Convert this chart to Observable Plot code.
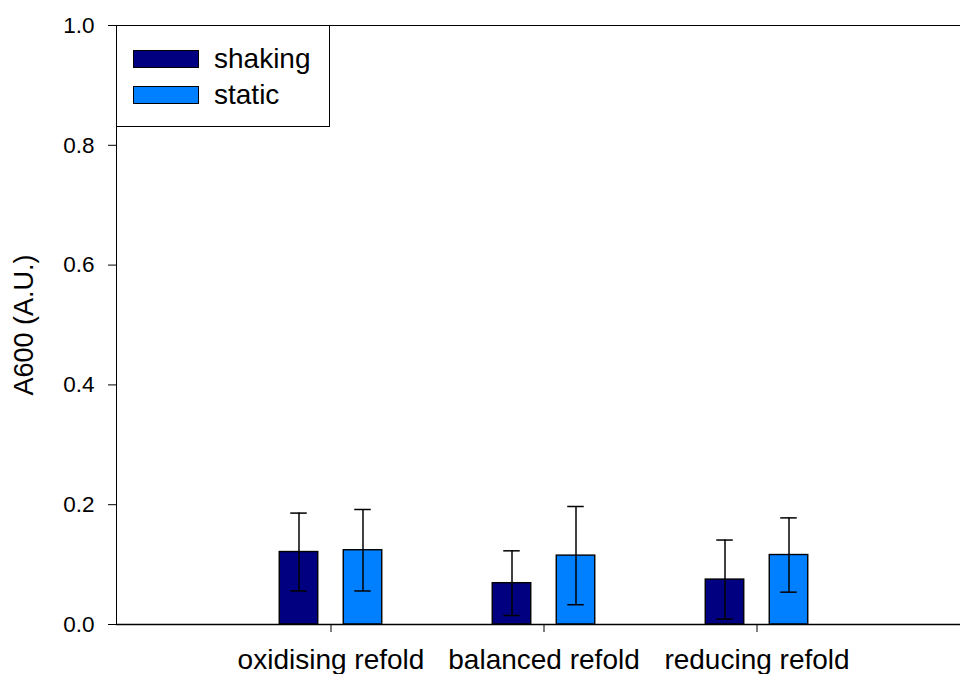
<!DOCTYPE html>
<html>
<head>
<meta charset="utf-8">
<script src="https://cdn.jsdelivr.net/npm/d3@7"></script>
<script src="https://cdn.jsdelivr.net/npm/@observablehq/plot@0.6"></script>
<style>
  html, body { margin: 0; padding: 0; background: #fff; }
  #chart { position: relative; width: 960px; height: 674px; overflow: hidden; font-family: "Liberation Sans", Arial, sans-serif; }
  #legend { position: absolute; left: 116px; top: 25px; width: 212px; height: 100px; border: 1px solid #000; background: #fff; }
  #legend .row { position: absolute; left: 16px; display: flex; align-items: center; font-size: 28px; color: #000; }
  #legend .sw { width: 64px; height: 16px; border: 1px solid #000; margin-right: 15px; }
</style>
</head>
<body>
<div id="chart"></div>
<script>
// Refolding conditions (x categories)
const conditions = ["oxidising refold", "balanced refold", "reducing refold"];
// Culture modes (series)
const series = ["shaking", "static"];
const seriesColors = ["#000080", "#0080ff"];
// Mean A600 per condition, and error (± half-range of the error bar)
const shakingMean = [0.121, 0.069, 0.075];
const shakingErr = [0.065, 0.054, 0.066];
const staticMean = [0.124, 0.115, 0.116];
const staticErr = [0.068, 0.082, 0.062];
// Y axis ticks
const yTicks = [0, 0.2, 0.4, 0.6, 0.8, 1.0];

const rows = [];
conditions.forEach((c, i) => {
  rows.push({cond: c, series: "shaking", mean: shakingMean[i], lo: shakingMean[i] - shakingErr[i], hi: shakingMean[i] + shakingErr[i]});
  rows.push({cond: c, series: "static", mean: staticMean[i], lo: staticMean[i] - staticErr[i], hi: staticMean[i] + staticErr[i]});
});

const width = 960, height = 674;
const marginLeft = 116, marginRight = -10, marginTop = 25, marginBottom = 50;
// Each category occupies one band; bars sit symmetrically around the band centre
const band = (width - marginLeft - marginRight) / 4;
const barW = 39, barOffset = 32, capW = 17;
const barInsetNear = band / 2 - barOffset - barW / 2;
const barInsetFar = band - barInsetNear - barW;
const capInsetNear = band / 2 - barOffset - capW / 2;
const capInsetFar = band - capInsetNear - capW;

const color = d3.scaleOrdinal(series, seriesColors);
const bySeries = s => rows.filter(d => d.series === s);

const plot = Plot.plot({
  width, height, marginLeft, marginRight, marginTop, marginBottom,
  style: {fontFamily: "Liberation Sans, Arial, sans-serif", background: "#fff", color: "#000"},
  x: {domain: conditions, paddingInner: 0, paddingOuter: 0.5, axis: null},
  y: {domain: [0, 1], axis: null},
  marks: [
    Plot.frame({stroke: "#000", strokeWidth: 1}),
    Plot.barY(bySeries("shaking"), {x: "cond", y: "mean", fill: color("shaking"), stroke: "#000", strokeWidth: 1.4, insetLeft: barInsetNear, insetRight: barInsetFar}),
    Plot.barY(bySeries("static"), {x: "cond", y: "mean", fill: color("static"), stroke: "#000", strokeWidth: 1.4, insetLeft: barInsetFar, insetRight: barInsetNear}),
    Plot.ruleX(bySeries("shaking"), {x: "cond", y1: "lo", y2: "hi", dx: -barOffset, stroke: "#000", strokeWidth: 1.5}),
    Plot.ruleX(bySeries("static"), {x: "cond", y1: "lo", y2: "hi", dx: barOffset, stroke: "#000", strokeWidth: 1.5}),
    Plot.tickY(bySeries("shaking"), {x: "cond", y: "hi", stroke: "#000", strokeWidth: 1.5, insetLeft: capInsetNear, insetRight: capInsetFar}),
    Plot.tickY(bySeries("shaking"), {x: "cond", y: "lo", stroke: "#000", strokeWidth: 1.5, insetLeft: capInsetNear, insetRight: capInsetFar}),
    Plot.tickY(bySeries("static"), {x: "cond", y: "hi", stroke: "#000", strokeWidth: 1.5, insetLeft: capInsetFar, insetRight: capInsetNear}),
    Plot.tickY(bySeries("static"), {x: "cond", y: "lo", stroke: "#000", strokeWidth: 1.5, insetLeft: capInsetFar, insetRight: capInsetNear}),
    Plot.ruleY([0], {stroke: "#000", strokeWidth: 1.6}),
    Plot.axisY({ticks: yTicks, tickFormat: d3.format(".1f"), tickSize: 8, tickPadding: 14, fontSize: 22.5, label: null, stroke: "#000", strokeOpacity: 1}),
    Plot.axisX({tickSize: 8, tickPadding: 17, fontSize: 28, label: null, stroke: "#000", strokeOpacity: 1}),
    Plot.text(["A600 (A.U.)"], {frameAnchor: "left", textAnchor: "middle", rotate: -90, dx: -92, fontSize: 27, fill: "#000"})
  ]
});

const chart = document.getElementById("chart");
chart.appendChild(plot);

// Legend box in the upper-left corner of the plot area
const legend = document.createElement("div");
legend.id = "legend";
series.forEach((s, i) => {
  const row = document.createElement("div");
  row.className = "row";
  row.style.top = (i === 0 ? 17 : 53) + "px";
  const sw = document.createElement("div");
  sw.className = "sw";
  sw.style.background = color(s);
  const label = document.createElement("span");
  label.textContent = s;
  row.appendChild(sw);
  row.appendChild(label);
  legend.appendChild(row);
});
chart.appendChild(legend);
</script>
</body>
</html>
